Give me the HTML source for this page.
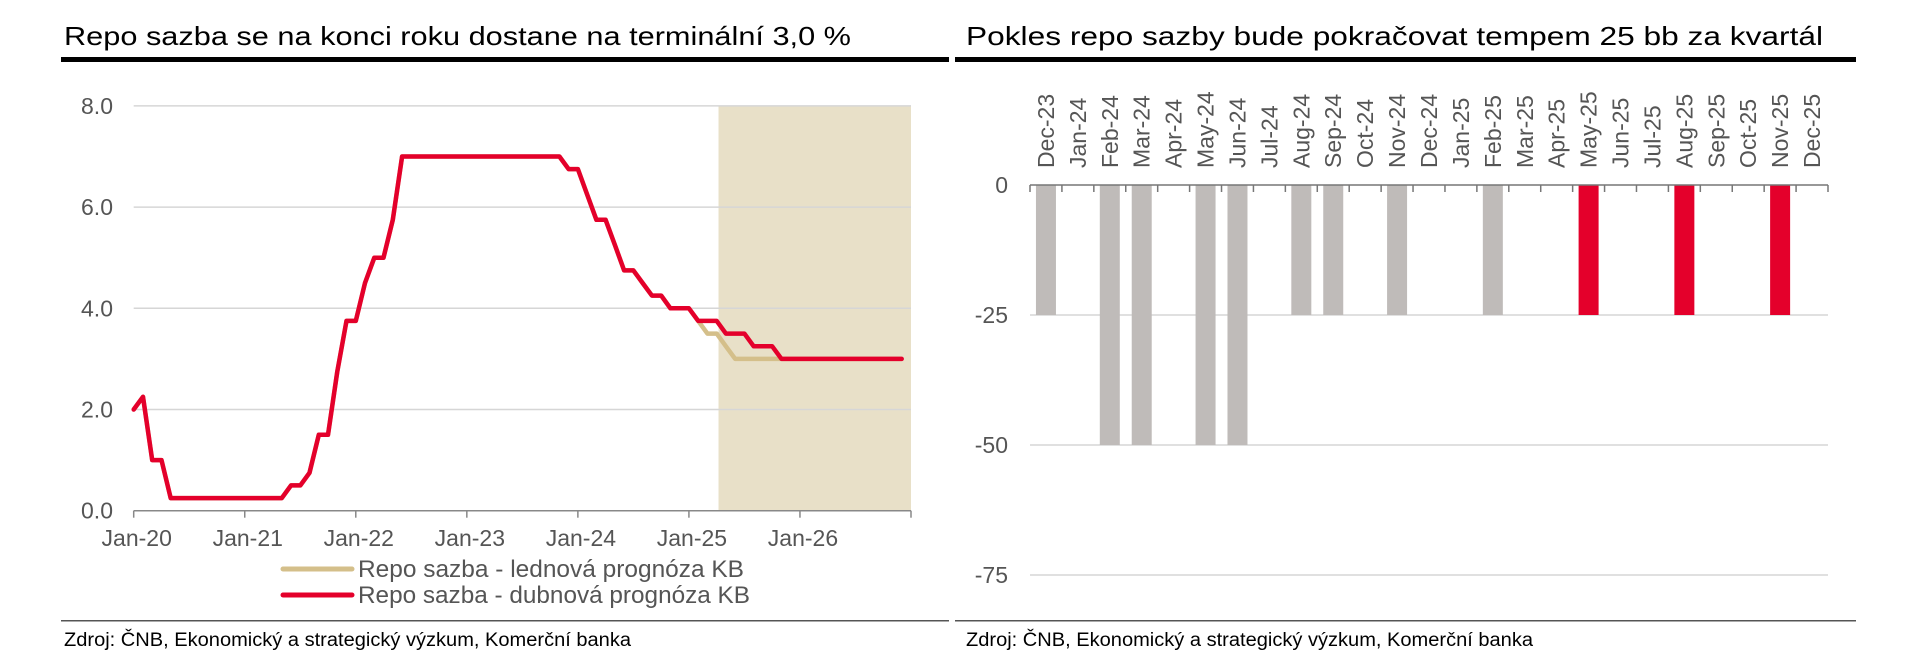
<!DOCTYPE html>
<html><head><meta charset="utf-8">
<style>
html,body{margin:0;padding:0;background:#fff;}
svg{display:block;font-family:"Liberation Sans",sans-serif;}
</style></head>
<body>
<svg id="root" width="1912" height="666" viewBox="0 0 1912 666">
  <g>
    <text x="64" y="45" font-size="26" fill="#000" textLength="787" lengthAdjust="spacingAndGlyphs">Repo sazba se na konci roku dostane na terminální 3,0 %</text>
    <rect x="61" y="57" width="888" height="5" fill="#000"/>
    <g id="leftPlot"></g>
    <g>
      <g>
        <line x1="283" y1="569" x2="352" y2="569" stroke="#d4bf8a" stroke-width="5" stroke-linecap="round"/>
        <text x="358" y="577" font-size="24" fill="#555" textLength="386" lengthAdjust="spacingAndGlyphs">Repo sazba - lednová prognóza KB</text>
      </g>
      <g>
        <line x1="283" y1="595" x2="352" y2="595" stroke="#e4002b" stroke-width="5" stroke-linecap="round"/>
        <text x="358" y="603" font-size="24" fill="#555" textLength="392" lengthAdjust="spacingAndGlyphs">Repo sazba - dubnová prognóza KB</text>
      </g>
    </g>
    <rect x="61" y="620" width="888" height="1.5" fill="#555"/>
    <text x="64" y="646" font-size="19" fill="#000" textLength="567" lengthAdjust="spacingAndGlyphs">Zdroj: ČNB, Ekonomický a strategický výzkum, Komerční banka</text>
  </g>
  <g>
    <text x="966" y="45" font-size="26" fill="#000" textLength="857" lengthAdjust="spacingAndGlyphs">Pokles repo sazby bude pokračovat tempem 25 bb za kvartál</text>
    <rect x="955" y="57" width="901" height="5" fill="#000"/>
    <g id="rightPlot"></g>
    <rect x="955" y="620" width="901" height="1.5" fill="#555"/>
    <text x="966" y="646" font-size="19" fill="#000" textLength="567" lengthAdjust="spacingAndGlyphs">Zdroj: ČNB, Ekonomický a strategický výzkum, Komerční banka</text>
  </g>
</svg>
<script>
// ---- Left chart data (monthly, Jan-2020 .. Dec-2026) ----
const yearLabels = ["Jan-20","Jan-21","Jan-22","Jan-23","Jan-24","Jan-25","Jan-26"];
const yTicksLeft = [0, 2, 4, 6, 8];
const yTickLabelsLeft = ["0.0","2.0","4.0","6.0","8.0"];
const aprilForecast = [
  2.0,2.25,1.0,1.0,0.25,0.25,0.25,0.25,0.25,0.25,0.25,0.25,
  0.25,0.25,0.25,0.25,0.25,0.5,0.5,0.75,1.5,1.5,2.75,3.75,
  3.75,4.5,5.0,5.0,5.75,7.0,7.0,7.0,7.0,7.0,7.0,7.0,
  7.0,7.0,7.0,7.0,7.0,7.0,7.0,7.0,7.0,7.0,7.0,6.75,
  6.75,6.25,5.75,5.75,5.25,4.75,4.75,4.5,4.25,4.25,4.0,4.0,
  4.0,3.75,3.75,3.75,3.5,3.5,3.5,3.25,3.25,3.25,3.0,3.0,
  3.0,3.0,3.0,3.0,3.0,3.0,3.0,3.0,3.0,3.0,3.0,3.0
];
const januaryForecast = [
  2.0,2.25,1.0,1.0,0.25,0.25,0.25,0.25,0.25,0.25,0.25,0.25,
  0.25,0.25,0.25,0.25,0.25,0.5,0.5,0.75,1.5,1.5,2.75,3.75,
  3.75,4.5,5.0,5.0,5.75,7.0,7.0,7.0,7.0,7.0,7.0,7.0,
  7.0,7.0,7.0,7.0,7.0,7.0,7.0,7.0,7.0,7.0,7.0,6.75,
  6.75,6.25,5.75,5.75,5.25,4.75,4.75,4.5,4.25,4.25,4.0,4.0,
  4.0,3.75,3.5,3.5,3.25,3.0,3.0,3.0,3.0,3.0,3.0,3.0,
  3.0,3.0,3.0,3.0,3.0,3.0,3.0,3.0,3.0,3.0,3.0,3.0
];
const forecastStartMonth = 63.2; // months after Jan-20 where shading begins

// ---- Right chart data ----
const months = ["Dec-23","Jan-24","Feb-24","Mar-24","Apr-24","May-24","Jun-24","Jul-24","Aug-24","Sep-24","Oct-24","Nov-24","Dec-24","Jan-25","Feb-25","Mar-25","Apr-25","May-25","Jun-25","Jul-25","Aug-25","Sep-25","Oct-25","Nov-25","Dec-25"];
const changes = [-25,0,-50,-50,0,-50,-50,0,-25,-25,0,-25,0,0,-25,0,0,-25,0,0,-25,0,0,-25,0];
const isForecast = [0,0,0,0,0,0,0,0,0,0,0,0,0,0,0,0,0,1,0,0,1,0,0,1,0];
const yTicksRight = [0,-25,-50,-75];

const NS = "http://www.w3.org/2000/svg";
function mk(tag, attrs, parent){ const e=document.createElementNS(NS,tag); for(const k in attrs) e.setAttribute(k,attrs[k]); parent.appendChild(e); return e; }

// Left chart
(function(){
  const g = document.getElementById('leftPlot');
  const X0=133.7, X1=911, Y0=510.7, Ypu=50.6;
  const xm = m => X0 + m*(X1-X0)/84;
  const yv = v => Y0 - v*Ypu;
  const shade = mk('rect',{x:xm(forecastStartMonth),y:yv(8),width:X1-xm(forecastStartMonth),height:Y0-yv(8),fill:'#e8e0c8'},g);
  
  
  yTicksLeft.forEach((t,i)=>{
    if(t!==0){
      const gl = mk('line',{x1:X0,x2:X1,y1:yv(t),y2:yv(t),stroke:'#d6d6d6','stroke-width':1.5},g);
      
      
    }
    const tl = mk('text',{x:113,y:yv(t)+8,'font-size':23,fill:'#555','text-anchor':'end'},g);
    tl.textContent = yTickLabelsLeft[i];
    
    
  });
  const ax = mk('line',{x1:X0,x2:X1,y1:Y0,y2:Y0,stroke:'#888','stroke-width':1.5},g);
  
  
  for(let k=0;k<=7;k++){
    const tk = mk('line',{x1:xm(k*12),x2:xm(k*12),y1:Y0,y2:Y0+7,stroke:'#888','stroke-width':1.5},g);
    
    
  }
  yearLabels.forEach((l,k)=>{
    const t = mk('text',{x:xm(k*12)+3,y:546,'font-size':23,fill:'#555','text-anchor':'middle'},g);
    t.textContent=l;
    
    
  });
  const ptsJ = januaryForecast.map((v,i)=>xm(i).toFixed(1)+','+yv(v).toFixed(1)).join(' ');
  const pj = mk('polyline',{points:ptsJ,fill:'none',stroke:'#d4bf8a','stroke-width':4.5,'stroke-linejoin':'round'},g);
  
  
  const ptsA = aprilForecast.map((v,i)=>xm(i).toFixed(1)+','+yv(v).toFixed(1)).join(' ');
  const pa = mk('polyline',{points:ptsA,fill:'none',stroke:'#e4002b','stroke-width':4.5,'stroke-linejoin':'round','stroke-linecap':'round'},g);
  
  
})();

// Right chart
(function(){
  const g = document.getElementById('rightPlot');
  const X0=1030, X1=1828, Y0=185, Ppb=130/25;
  const cw=(X1-X0)/months.length;
  const yv = v => Y0 - v*Ppb;
  yTicksRight.forEach(t=>{
    if(t!==0){
      const gl = mk('line',{x1:X0,x2:X1,y1:yv(t),y2:yv(t),stroke:'#d6d6d6','stroke-width':1.5},g);
      
      
    }
    const tl = mk('text',{x:1008,y:yv(t)+8,'font-size':23,fill:'#555','text-anchor':'end'},g);
    tl.textContent = String(t);
    
    
  });
  changes.forEach((v,i)=>{
    if(v===0) return;
    const cx = X0 + cw*(i+0.5);
    const b = mk('rect',{x:cx-10,y:Y0,width:20,height:yv(v)-Y0,fill:isForecast[i]?'#e4002b':'#bfbbb9'},g);
    
    
  });
  const ax = mk('line',{x1:X0,x2:X1,y1:Y0,y2:Y0,stroke:'#777','stroke-width':1.5},g);
  
  
  for(let i=0;i<=months.length;i++){
    const tk = mk('line',{x1:X0+cw*i,x2:X0+cw*i,y1:Y0,y2:Y0+7,stroke:'#777','stroke-width':1.5},g);
    
    
  }
  months.forEach((m,i)=>{
    const cx = X0 + cw*(i+0.5);
    const t = mk('text',{x:0,y:0,'font-size':23,fill:'#555','text-anchor':'start',transform:'translate('+(cx+8)+',168) rotate(-90)'},g);
    t.textContent=m;
    
    
  });
})();
</script>
</body></html>
